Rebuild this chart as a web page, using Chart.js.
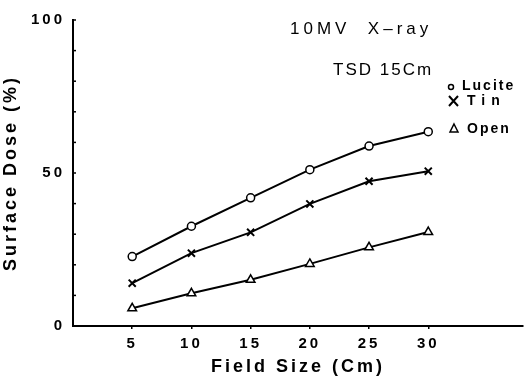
<!DOCTYPE html>
<html>
<head>
<meta charset="utf-8">
<script src="https://cdn.jsdelivr.net/npm/chart.js@4"></script>
<style>
  html, body { margin: 0; padding: 0; background: #fff; }
  #wrap { width: 530px; height: 378px; }
</style>
</head>
<body>
<div id="wrap"><canvas id="chart" width="530" height="378"></canvas></div>
<script>
// field size (cm)
const fieldSizes = [5, 10, 15, 20, 25, 30];
// surface dose (%)
const lucite = [22.7, 32.6, 41.9, 51.1, 58.8, 63.5];
const tin = [14.0, 23.8, 30.6, 39.9, 47.3, 50.6];
const open = [5.8, 10.7, 15.1, 20.3, 25.7, 30.7];
const yLabels = [0, 50, 100];

const FONT = "'Liberation Sans', Arial, sans-serif";

function pts(values) {
    return fieldSizes.map((x, i) => ({ x: x, y: values[i] }));
}

// minor ticks inside the y axis + text annotations
const extras = {
    id: "extras",
    beforeDraw(chart) {
        chart.ctx.letterSpacing = "3px";
    },
    afterDraw(chart) {
        const ctx = chart.ctx;
        const y = chart.scales.y;
        const x = chart.scales.x;
        ctx.save();
        ctx.strokeStyle = "#000";
        ctx.lineWidth = 1.5;
        for (let v = 10; v <= 100; v += 10) {
            const py = y.getPixelForValue(v);
            ctx.beginPath();
            ctx.moveTo(x.left, py);
            ctx.lineTo(x.left + 3, py);
            ctx.stroke();
        }

        ctx.fillStyle = "#000";
        ctx.textBaseline = "middle";
        ctx.textAlign = "left";
        ctx.letterSpacing = "4px";
        ctx.font = "17px " + FONT;
        ctx.fillText("10MV  X\u2013ray", 290, 29);
        ctx.letterSpacing = "2px";
        ctx.fillText("TSD 15Cm", 333, 70);

        ctx.font = "bold 14px " + FONT;
        ctx.letterSpacing = "2px";
        ctx.fillText("Lucite", 462, 86);
        ctx.letterSpacing = "6px";
        ctx.fillText("Tin", 467, 101);
        ctx.letterSpacing = "2px";
        ctx.fillText("Open", 467, 129);

        ctx.lineWidth = 1.5;
        ctx.beginPath();
        ctx.arc(451, 87, 2.5, 0, Math.PI * 2);
        ctx.stroke();
        ctx.lineWidth = 2;
        ctx.beginPath();
        ctx.moveTo(449, 96); ctx.lineTo(458, 106);
        ctx.moveTo(458, 96); ctx.lineTo(449, 106);
        ctx.stroke();
        ctx.lineWidth = 1.5;
        ctx.beginPath();
        ctx.moveTo(454, 124); ctx.lineTo(458, 132); ctx.lineTo(450, 132); ctx.closePath();
        ctx.stroke();
        ctx.restore();
    }
};

const lineStyle = {
    borderColor: "#000",
    borderWidth: 2,
    pointBorderColor: "#000",
    pointBackgroundColor: "#fff",
    pointBorderWidth: 1.5,
    tension: 0
};

new Chart(document.getElementById("chart"), {
    type: "line",
    data: {
        datasets: [
            { ...lineStyle, label: "Lucite", data: pts(lucite), pointStyle: "circle", pointRadius: 4 },
            { ...lineStyle, label: "Tin", data: pts(tin), pointStyle: "crossRot", pointRadius: 5, pointBorderWidth: 2 },
            { ...lineStyle, label: "Open", data: pts(open), pointStyle: "triangle", pointRadius: 5 }
        ]
    },
    options: {
        responsive: false,
        animation: false,
        layout: { padding: { top: 20, right: 0, left: 0, bottom: 0 } },
        plugins: { legend: { display: false }, tooltip: { enabled: false } },
        scales: {
            x: {
                type: "linear",
                min: 0,
                max: 38,
                afterBuildTicks(scale) {
                    scale.ticks = fieldSizes.map(v => ({ value: v }));
                },
                afterFit(scale) { scale.height = 52; },
                border: { color: "#000", width: 2 },
                grid: { drawOnChartArea: false, color: "#000", tickLength: 3, lineWidth: 1.5 },
                ticks: {
                    color: "#000",
                    padding: 6,
                    maxRotation: 0,
                    font: { family: FONT, size: 15, weight: "bold" }
                },
                title: {
                    display: true,
                    text: "Field Size (Cm)",
                    color: "#000",
                    padding: { top: 2, bottom: 0 },
                    font: { family: FONT, size: 18, weight: "bold" }
                }
            },
            y: {
                min: 0,
                max: 100,
                afterFit(scale) { scale.width = 73; },
                border: { color: "#000", width: 2 },
                grid: { display: false },
                ticks: {
                    stepSize: 10,
                    color: "#000",
                    padding: 0,
                    font: { family: FONT, size: 15, weight: "bold" },
                    callback: v => yLabels.includes(v) ? String(v) : ""
                },
                title: {
                    display: true,
                    text: "Surface Dose (%)",
                    color: "#000",
                    padding: { top: 0, bottom: 10 },
                    font: { family: FONT, size: 18, weight: "bold" }
                }
            }
        }
    },
    plugins: [extras]
});
</script>
</body>
</html>
